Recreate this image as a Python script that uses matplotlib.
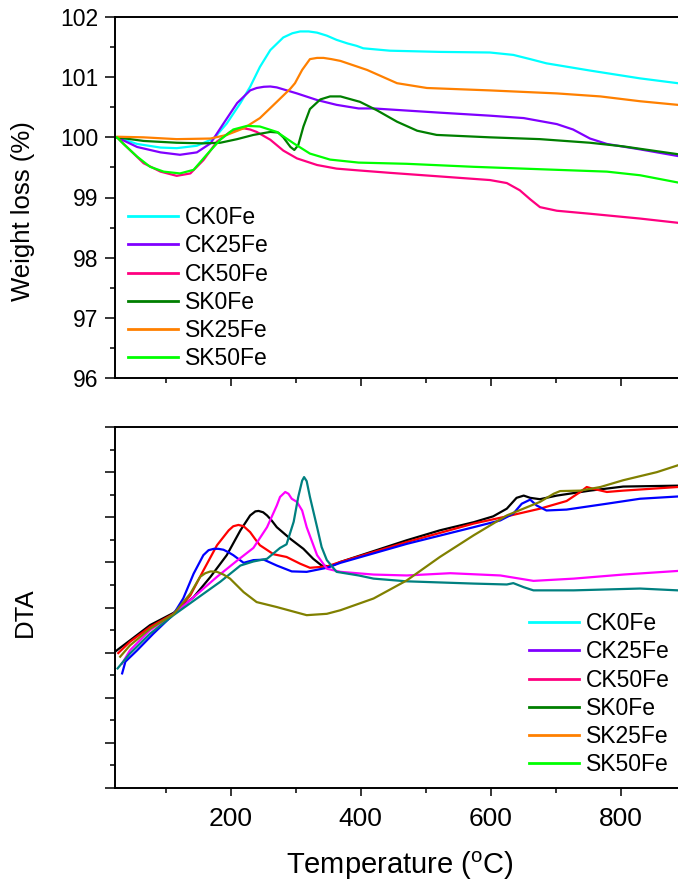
import matplotlib
matplotlib.use("Agg")
import matplotlib.pyplot as plt
from matplotlib.lines import Line2D
from matplotlib.ticker import MultipleLocator, NullFormatter

plt.rcParams['font.family'] = ['Liberation Sans', 'DejaVu Sans']
plt.rcParams['mathtext.fontset'] = 'custom'
plt.rcParams['mathtext.rm'] = 'Liberation Sans'
plt.rcParams['mathtext.it'] = 'Liberation Sans:italic'

# ---------------- TGA: weight (%) vs temperature (°C) ----------------
names = ["CK0Fe", "CK25Fe", "CK50Fe", "SK0Fe", "SK25Fe", "SK50Fe"]
tga_colors = ["#00FFFF", "#8000FF", "#FF0080", "#007F00", "#FF8000", "#00FF00"]

ck0_T = [22, 25, 56, 92, 117, 148, 174, 194, 215, 230, 245, 261, 281, 295, 307, 320, 333, 348,
         363, 380, 394, 404, 445, 522, 599, 635, 661, 686, 753, 830, 888]
ck0_W = [100.0, 100.0, 99.89, 99.83, 99.82, 99.86, 99.98, 100.23, 100.57, 100.84, 101.17, 101.45,
         101.66, 101.73, 101.76, 101.76, 101.74, 101.69, 101.62, 101.56, 101.52, 101.48, 101.44,
         101.42, 101.41, 101.37, 101.30, 101.23, 101.11, 100.98, 100.90]

ck25_T = [22, 25, 56, 92, 122, 148, 169, 189, 210, 230, 240, 251, 261, 271, 302, 333, 363, 397,
          420, 522, 599, 651, 702, 727, 753, 779, 830, 888]
ck25_W = [100.0, 100.0, 99.84, 99.75, 99.71, 99.75, 99.90, 100.23, 100.57, 100.78, 100.82, 100.84,
          100.845, 100.83, 100.73, 100.62, 100.54, 100.48, 100.48, 100.41, 100.36, 100.32, 100.22,
          100.13, 99.98, 99.89, 99.80, 99.69]

ck50_T = [22, 25, 45, 66, 92, 117, 138, 158, 179, 199, 210, 220, 230, 240, 261, 281, 302, 333,
          363, 397, 445, 522, 599, 625, 645, 661, 676, 702, 753, 830, 888]
ck50_W = [100.0, 100.0, 99.79, 99.57, 99.43, 99.36, 99.40, 99.62, 99.93, 100.09, 100.13, 100.15,
          100.13, 100.09, 99.96, 99.78, 99.65, 99.54, 99.48, 99.45, 99.41, 99.35, 99.29, 99.24,
          99.12, 98.97, 98.84, 98.78, 98.73, 98.65, 98.58]

sk0_T = [22, 25, 66, 117, 158, 184, 210, 235, 261, 273, 281, 292, 298, 304, 312, 322, 338, 353,
         369, 399, 425, 456, 487, 517, 599, 676, 753, 804, 888]
sk0_W = [100.0, 100.0, 99.94, 99.91, 99.90, 99.91, 99.97, 100.04, 100.09, 100.08, 100.0, 99.84,
         99.79, 99.87, 100.18, 100.47, 100.63, 100.68, 100.68, 100.59, 100.45, 100.26, 100.11,
         100.04, 100.0, 99.97, 99.91, 99.85, 99.72]

sk25_T = [22, 25, 66, 117, 169, 194, 220, 245, 271, 292, 299, 310, 322, 333, 343, 355, 369, 410,
          456, 502, 599, 702, 769, 830, 888]
sk25_W = [100.0, 100.01, 100.0, 99.97, 99.98, 100.04, 100.15, 100.32, 100.59, 100.81, 100.90,
          101.12, 101.30, 101.32, 101.32, 101.30, 101.27, 101.12, 100.90, 100.82, 100.78, 100.73,
          100.68, 100.60, 100.54]

sk50_T = [22, 25, 35, 56, 76, 97, 122, 143, 163, 184, 204, 225, 245, 271, 297, 322, 353, 397,
          471, 574, 676, 779, 830, 888]
sk50_W = [100.0, 100.0, 99.89, 99.68, 99.51, 99.43, 99.40, 99.46, 99.71, 99.96, 100.13, 100.19,
          100.18, 100.09, 99.90, 99.73, 99.63, 99.58, 99.56, 99.51, 99.47, 99.43, 99.37, 99.25]

tga_T = [ck0_T, ck25_T, ck50_T, sk0_T, sk25_T, sk50_T]
tga_W = [ck0_W, ck25_W, ck50_W, sk0_W, sk25_W, sk50_W]

# ---------------- DTA signal (arbitrary units) ----------------
dta_colors = ["#000000", "#FF0000", "#0000FF", "#FF00FF", "#008080", "#808000"]

black_T = [22, 45, 76, 112, 143, 169, 194, 215, 230, 238, 243, 250, 256, 263, 271, 292, 312, 327,
           340, 353, 369, 420, 471, 522, 574, 604, 625, 640, 651, 661, 676, 702, 753, 804, 888]
black_D = [3.02, 3.27, 3.61, 3.88, 4.23, 4.68, 5.16, 5.71, 6.04, 6.13, 6.14, 6.11, 6.04, 5.93,
           5.78, 5.52, 5.30, 5.08, 4.93, 4.91, 5.01, 5.25, 5.49, 5.71, 5.89, 6.02, 6.19, 6.43,
           6.48, 6.43, 6.40, 6.48, 6.59, 6.68, 6.70]

red_T = [27, 45, 76, 112, 138, 158, 179, 197, 204, 212, 220, 230, 238, 245, 266, 286, 307, 322,
         348, 369, 471, 574, 625, 676, 717, 738, 748, 758, 779, 804, 888]
red_D = [2.99, 3.24, 3.57, 3.86, 4.27, 4.82, 5.38, 5.71, 5.80, 5.83, 5.80, 5.67, 5.51, 5.38,
         5.18, 5.12, 4.97, 4.88, 4.91, 5.01, 5.45, 5.86, 6.02, 6.19, 6.36, 6.56, 6.67, 6.63,
         6.56, 6.59, 6.67]

blue_T = [33, 38, 56, 81, 112, 127, 143, 158, 166, 174, 181, 189, 197, 204, 220, 235, 251, 271,
          294, 317, 348, 369, 471, 574, 615, 635, 648, 661, 671, 686, 717, 779, 830, 888]
blue_D = [2.54, 2.80, 3.05, 3.42, 3.85, 4.20, 4.75, 5.16, 5.27, 5.30, 5.30, 5.28, 5.22, 5.16,
          4.99, 5.05, 5.06, 4.93, 4.80, 4.79, 4.88, 4.99, 5.41, 5.78, 5.93, 6.08, 6.30, 6.39,
          6.26, 6.15, 6.17, 6.30, 6.41, 6.46]

magenta_T = [33, 45, 76, 112, 143, 179, 210, 235, 256, 271, 276, 284, 289, 294, 302, 310, 317,
             333, 348, 369, 420, 471, 538, 615, 666, 728, 804, 888]
magenta_D = [2.76, 3.05, 3.50, 3.85, 4.23, 4.68, 5.04, 5.32, 5.78, 6.26, 6.45, 6.56, 6.52, 6.41,
             6.34, 6.15, 5.78, 5.16, 4.86, 4.79, 4.73, 4.71, 4.76, 4.71, 4.59, 4.64, 4.73, 4.81]

teal_T = [26, 45, 76, 112, 148, 184, 215, 235, 256, 276, 286, 297, 304, 310, 313, 317, 322, 333,
          340, 348, 363, 397, 420, 471, 574, 625, 635, 651, 666, 728, 830, 888]
teal_D = [2.65, 2.98, 3.42, 3.83, 4.20, 4.57, 4.93, 5.02, 5.08, 5.32, 5.40, 5.90, 6.45, 6.81,
          6.89, 6.80, 6.45, 5.78, 5.34, 5.05, 4.79, 4.71, 4.64, 4.58, 4.53, 4.51, 4.54, 4.45,
          4.38, 4.38, 4.42, 4.38]

olive_T = [30, 45, 76, 112, 138, 153, 161, 169, 179, 189, 199, 220, 240, 271, 317, 348, 369, 420,
           471, 522, 574, 625, 676, 697, 707, 738, 769, 804, 856, 888]
olive_D = [2.91, 3.16, 3.53, 3.85, 4.31, 4.68, 4.76, 4.80, 4.79, 4.73, 4.64, 4.34, 4.12, 4.01,
           3.83, 3.86, 3.94, 4.20, 4.60, 5.12, 5.60, 6.04, 6.34, 6.52, 6.58, 6.59, 6.67, 6.82,
           7.00, 7.15]

dta_T = [black_T, red_T, blue_T, magenta_T, teal_T, olive_T]
dta_D = [black_D, red_D, blue_D, magenta_D, teal_D, olive_D]

# ---------------- figure ----------------
W_PX, H_PX = 678, 881
fig = plt.figure(figsize=(W_PX / 100, H_PX / 100), dpi=100)

def px_axes(left, top, right, bottom):
    return fig.add_axes([left / W_PX, 1 - bottom / H_PX, (right - left) / W_PX, (bottom - top) / H_PX])

ax1 = px_axes(115, 17, 685.5, 378)
ax2 = px_axes(115, 427, 685.5, 788)

LW = 1.6
for T, Wt, c in zip(tga_T, tga_W, tga_colors):
    ax1.plot(T, Wt, color=c, lw=LW, solid_joinstyle='round')
for T, D, c in zip(dta_T, dta_D, dta_colors):
    ax2.plot(T, D, color=c, lw=LW, solid_joinstyle='round')

for ax in (ax1, ax2):
    ax.set_xlim(22, 900)
    ax.xaxis.set_major_locator(MultipleLocator(200))
    ax.xaxis.set_minor_locator(MultipleLocator(100))
    for s in ax.spines.values():
        s.set_linewidth(1.4)
    ax.spines['right'].set_visible(False)
    ax.tick_params(axis='both', which='both', direction='out', top=False, right=False, width=1.1)
    ax.tick_params(axis='x', which='major', length=6)
    ax.tick_params(axis='x', which='minor', length=3.3)
    ax.tick_params(axis='y', which='major', length=7.2)
    ax.tick_params(axis='y', which='minor', length=3.6)

ax1.set_ylim(96, 102)
ax1.yaxis.set_major_locator(MultipleLocator(1))
ax1.yaxis.set_minor_locator(MultipleLocator(0.5))
ax1.tick_params(axis='y', labelsize=16.5, pad=5)
ax1.xaxis.set_major_formatter(NullFormatter())

ax2.set_ylim(0, 8)
ax2.yaxis.set_major_locator(MultipleLocator(1))
ax2.yaxis.set_minor_locator(MultipleLocator(0.5))
ax2.yaxis.set_major_formatter(NullFormatter())
ax2.tick_params(axis='x', labelsize=19, pad=8)

def fig_xy(x, y):
    return x / W_PX, 1 - y / H_PX

fig.text(*fig_xy(23, 211), "Weight loss (%)", rotation=90, ha='center', va='center', fontsize=18.5)
fig.text(*fig_xy(25, 612), "DTA", rotation=90, ha='center', va='center', fontsize=18.5)
fig.text(*fig_xy(400, 866), r"Temperature ($\mathregular{^{o}}$C)", ha='center', va='center', fontsize=21)

handles = [Line2D([], [], color=c, lw=2.0) for c in tga_colors]
leg_kw = dict(frameon=False, fontsize=16.5, handlelength=2.2, handletextpad=0.3,
              labelspacing=0.23, borderpad=0, borderaxespad=0, loc='upper left')
ax1.legend(handles, names, bbox_to_anchor=fig_xy(128, 206), bbox_transform=fig.transFigure, **leg_kw)
ax2.legend(handles, names, bbox_to_anchor=fig_xy(529, 612), bbox_transform=fig.transFigure, **leg_kw)

fig.savefig("out.png", dpi=100)
